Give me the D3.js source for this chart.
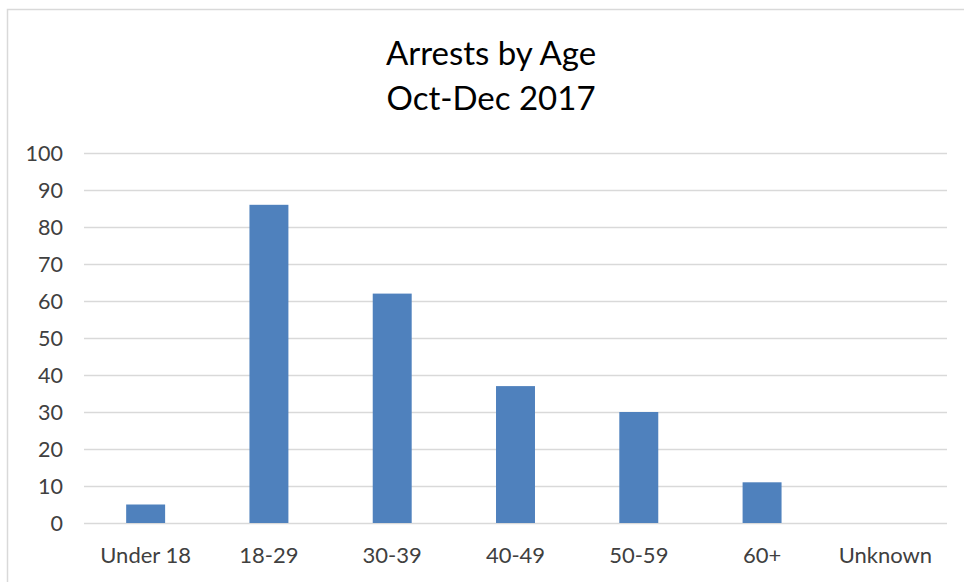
<!DOCTYPE html>
<html><head><meta charset="utf-8">
<script src="https://cdn.jsdelivr.net/npm/d3@7"></script>
<style>body{margin:0;background:#fff}svg{display:block}</style>
</head><body>
<script>
const categories = ["Under 18","18-29","30-39","40-49","50-59","60+","Unknown"];
const values = [5,86,62,37,30,11,0];
const yTicks = [0,10,20,30,40,50,60,70,80,90,100];
const titleLines = ["Arrests by Age","Oct-Dec 2017"];

const W = 964, H = 582;
const svg = d3.select("body").append("svg").attr("width",W).attr("height",H);
const font = "Lato, 'Open Sans', sans-serif";

svg.append("rect").attr("x",7.5).attr("y",9.5).attr("width",W+10).attr("height",H+10)
  .attr("fill","#fff").attr("stroke","#d9d9d9").attr("stroke-width",1.5);

const m = {left:84, right:947, top:153, bottom:523};
const x = d3.scaleBand().domain(categories).range([m.left,m.right]).paddingInner(0.684).paddingOuter(0.342);
const y = d3.scaleLinear().domain([0,100]).range([m.bottom,m.top]);

svg.append("g").selectAll("line").data(yTicks).join("line")
  .attr("x1",m.left).attr("x2",m.right)
  .attr("y1",d=>Math.round(y(d))+0.5).attr("y2",d=>Math.round(y(d))+0.5)
  .attr("stroke","#d9d9d9").attr("stroke-width",1.3);

const yAxis = d3.axisLeft(y).tickValues(yTicks).tickSize(0).tickPadding(0);
const gy = svg.append("g").attr("transform",`translate(63,0)`).call(yAxis);
gy.select(".domain").remove();
gy.selectAll("text").attr("font-family",font).attr("font-size",21.5).attr("fill","#404040").attr("dy","0.35em");

svg.append("g").selectAll("rect").data(values).join("rect")
  .attr("x",(d,i)=>x(categories[i])).attr("width",x.bandwidth())
  .attr("y",d=>y(d)).attr("height",d=>y(0)-y(d))
  .attr("fill","#4f81bd");

const xAxis = d3.axisBottom(x).tickSize(0).tickPadding(0);
const gx = svg.append("g").attr("transform",`translate(0,${m.bottom})`).call(xAxis);
gx.select(".domain").remove();
gx.selectAll("text").attr("font-family",font).attr("font-size",22).attr("fill","#404040").attr("dy",null).attr("y",40);

svg.append("g").selectAll("text").data(titleLines).join("text")
  .attr("x",491).attr("y",(d,i)=>65+i*45)
  .attr("text-anchor","middle").attr("font-family",font).attr("font-size",33)
  .attr("fill","#000").text(d=>d);
</script>
</body></html>
